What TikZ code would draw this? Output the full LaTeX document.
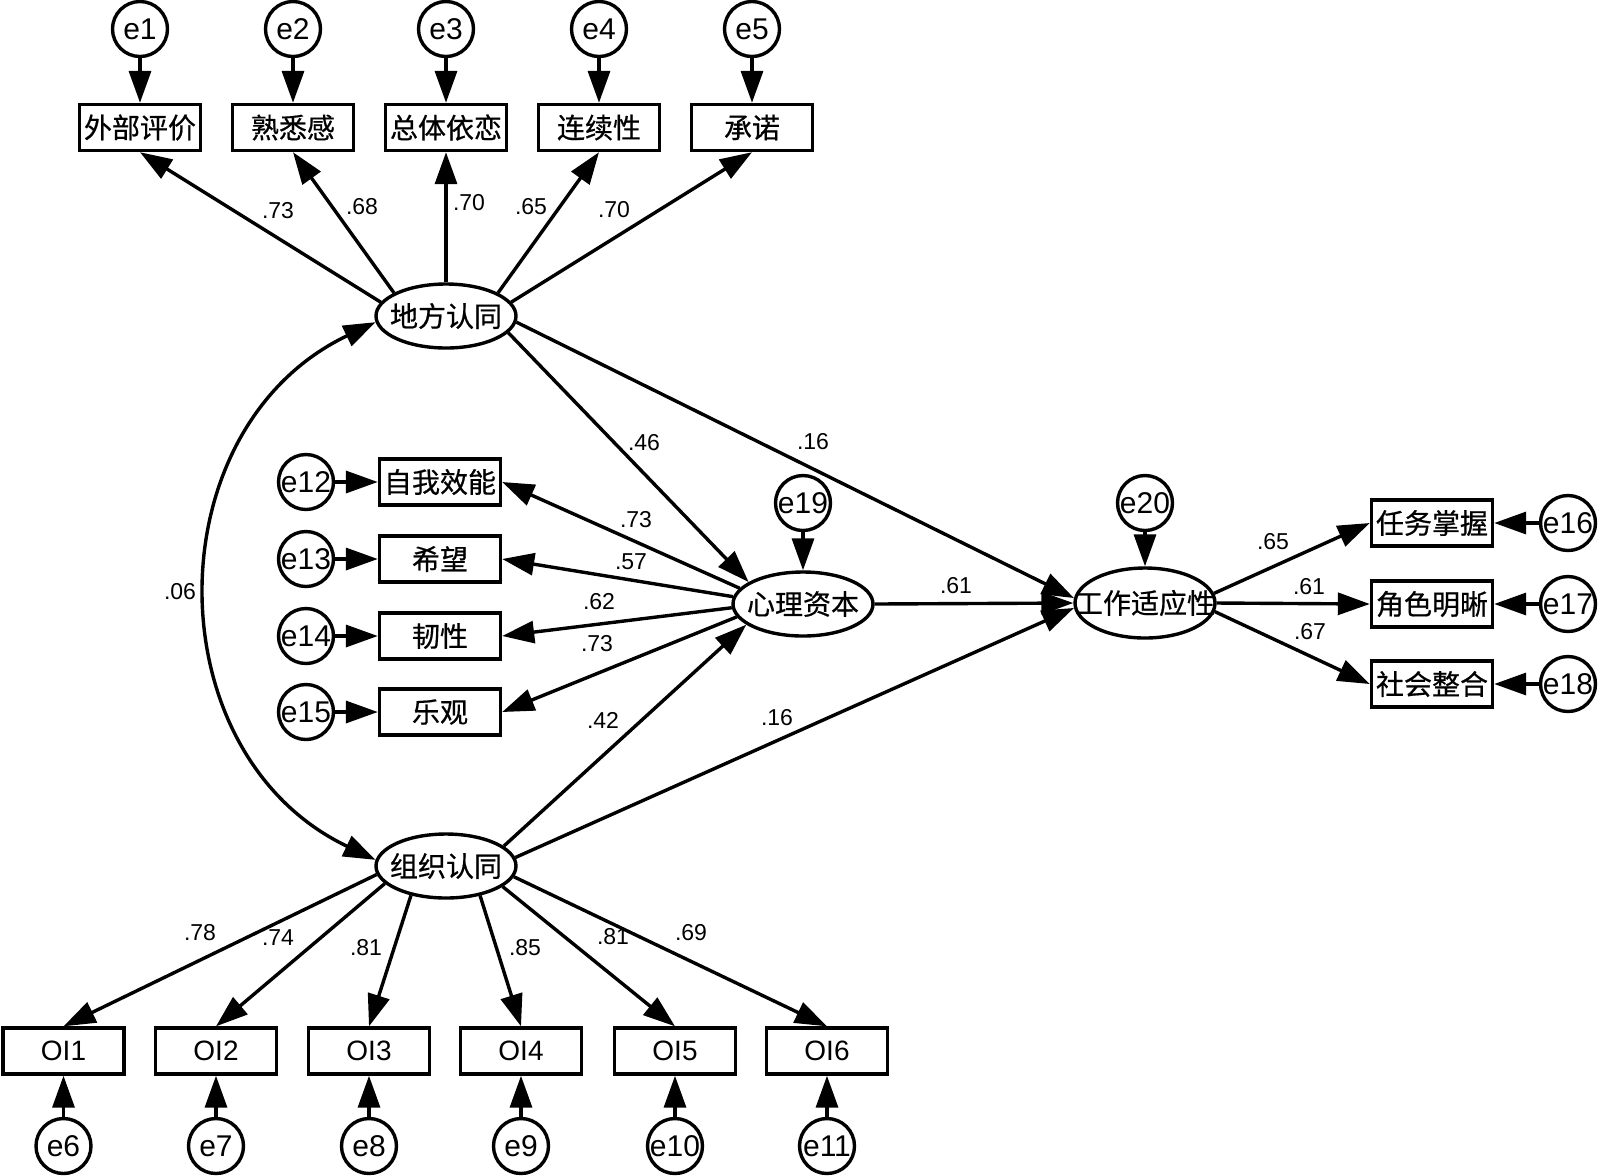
\documentclass[tikz,border=0pt]{standalone}
\usepackage{fontspec}
\setmainfont{Liberation Sans}
\newfontfamily\cjk[FakeBold=0.6]{Noto Sans CJK SC}
\usetikzlibrary{arrows.meta,shapes.geometric}
\tikzset{
  every node/.style={font=\fontsize{14pt}{16pt}\selectfont},
  obs/.style={draw, line width=1.7pt, rectangle, minimum width=60.5pt, minimum height=23pt, inner sep=0pt},
  err/.style={draw, line width=1.7pt, circle, minimum size=27.5pt, inner sep=0pt, font=\fontsize{15pt}{17pt}\selectfont},
  lat/.style={draw, line width=1.7pt, ellipse, minimum width=70pt, minimum height=32pt, inner sep=0pt},
  arr/.style={line width=1.7pt, -{Triangle[length=16pt,width=11pt]}},
  dbl/.style={line width=1.7pt, {Triangle[length=16pt,width=11pt]}-{Triangle[length=16pt,width=11pt]}},
  lbl/.style={font=\fontsize{11.5pt}{13pt}\selectfont, inner sep=0pt},
}
\begin{document}
\begin{tikzpicture}[x=0.5pt,y=-0.5pt]
\useasboundingbox (0,0) rectangle (1600,1175);
% latent variables
\node[lat] (dfang) at (446,316) {\makebox[0pt]{\cjk 地方认同}};
\node[lat] (zuzhi) at (446,866) {\makebox[0pt]{\cjk 组织认同}};
\node[lat] (psy) at (803,604) {\makebox[0pt]{\cjk 心理资本}};
\node[lat, minimum height=35pt] (work) at (1145,603) {\makebox[0pt]{\cjk 工作适应性}};
% top indicators
\node[obs] (b1) at (140,127.5) {\cjk 外部评价};
\node[obs] (b2) at (293,127.5) {\cjk 熟悉感};
\node[obs] (b3) at (446,127.5) {\cjk 总体依恋};
\node[obs] (b4) at (599,127.5) {\cjk 连续性};
\node[obs] (b5) at (752,127.5) {\cjk 承诺};
\node[err] (e1) at (140,29) {e1};
\node[err] (e2) at (293,29) {e2};
\node[err] (e3) at (446,29) {e3};
\node[err] (e4) at (599,29) {e4};
\node[err] (e5) at (752,29) {e5};
% middle indicators
\node[obs] (m1) at (440,482) {\cjk 自我效能};
\node[obs] (m2) at (440,559) {\cjk 希望};
\node[obs] (m3) at (440,636) {\cjk 韧性};
\node[obs] (m4) at (440,712) {\cjk 乐观};
\node[err] (e12) at (306,482) {e12};
\node[err] (e13) at (306,559) {e13};
\node[err] (e14) at (306,636) {e14};
\node[err] (e15) at (306,712) {e15};
\node[err] (e19) at (803,503) {e19};
\node[err] (e20) at (1145,503) {e20};
% right indicators
\node[obs] (r1) at (1432,523) {\cjk 任务掌握};
\node[obs] (r2) at (1432,604) {\cjk 角色明晰};
\node[obs] (r3) at (1432,684) {\cjk 社会整合};
\node[err] (e16) at (1568,523) {e16};
\node[err] (e17) at (1568,604) {e17};
\node[err] (e18) at (1568,684) {e18};
% bottom indicators
\node[obs] (o1) at (63.5,1051) {OI1};
\node[obs] (o2) at (216,1051) {OI2};
\node[obs] (o3) at (369,1051) {OI3};
\node[obs] (o4) at (521,1051) {OI4};
\node[obs] (o5) at (675,1051) {OI5};
\node[obs] (o6) at (827,1051) {OI6};
\node[err] (e6) at (63.5,1146) {e6};
\node[err] (e7) at (216,1146) {e7};
\node[err] (e8) at (369,1146) {e8};
\node[err] (e9) at (521,1146) {e9};
\node[err] (e10) at (675,1146) {e10};
\node[err] (e11) at (827,1146) {e11};
% error arrows
\foreach \e/\b in {e1/b1,e2/b2,e3/b3,e4/b4,e5/b5,e12/m1,e13/m2,e14/m3,e15/m4,e16/r1,e17/r2,e18/r3,e6/o1,e7/o2,e8/o3,e9/o4,e10/o5,e11/o6,e19/psy,e20/work}
  \draw[arr] (\e) -- (\b);
% loadings of 地方认同
\draw[arr] (dfang.168) -- (b1.south);
\draw[arr] (dfang.156) -- (b2.south);
\draw[arr] (dfang.90) -- (b3.south);
\draw[arr] (dfang.24) -- (b4.south);
\draw[arr] (dfang.12) -- (b5.south);
% structural paths
\draw[arr] (dfang.-15) -- (psy.158);
\draw[arr] (dfang.-5) -- (work.176);
\draw[arr] (zuzhi.19) -- (psy.200);
\draw[arr] (zuzhi.7) -- (work.184);
\draw[arr] (psy.east) -- (work.west);
% 心理资本 indicators
\draw[arr] (psy.166) -- (m1.east);
\draw[arr] (psy.174) -- (m2.east);
\draw[arr] (psy.183) -- (m3.east);
\draw[arr] (psy.191) -- (m4.east);
% 工作适应性 indicators
\draw[arr] (work.8) -- (r1.west);
\draw[arr] (work.east) -- (r2.west);
\draw[arr] (work.-7) -- (r3.west);
% 组织认同 indicators
\draw[arr] (zuzhi.187) -- (o1.north);
\draw[arr] (zuzhi.196) -- (o2.north);
\draw[arr] (zuzhi.220) -- (o3.north);
\draw[arr] (zuzhi.319) -- (o4.north);
\draw[arr] (zuzhi.340) -- (o5.north);
\draw[arr] (zuzhi.351) -- (o6.north);
% covariance
\draw[dbl] (dfang.185) .. controls +(-222,106) and +(-222,-106) .. (zuzhi.175);
% labels
\node[lbl] (l1) at (278,211) {.73};
\node[lbl] (l2) at (362,207) {.68};
\node[lbl] (l3) at (469,203) {.70};
\node[lbl] (l4) at (531,207) {.65};
\node[lbl] (l5) at (614,210) {.70};
\node[lbl] (l6) at (180,592) {.06};
\node[lbl] (l7) at (644,443) {.46};
\node[lbl] (l8) at (813,442) {.16};
\node[lbl] (l9) at (636,520) {.73};
\node[lbl] (l10) at (631,562) {.57};
\node[lbl] (l11) at (599,602) {.62};
\node[lbl] (l12) at (597,644) {.73};
\node[lbl] (l13) at (603,720) {.42};
\node[lbl] (l14) at (777,718) {.16};
\node[lbl] (l15) at (956,586) {.61};
\node[lbl] (l16) at (1273,542) {.65};
\node[lbl] (l17) at (1309,587) {.61};
\node[lbl] (l18) at (1310,632) {.67};
\node[lbl] (l19) at (200,933) {.78};
\node[lbl] (l20) at (278,938) {.74};
\node[lbl] (l21) at (366,948) {.81};
\node[lbl] (l22) at (525,948) {.85};
\node[lbl] (l23) at (613,937) {.81};
\node[lbl] (l24) at (691,933) {.69};
\end{tikzpicture}
\end{document}
